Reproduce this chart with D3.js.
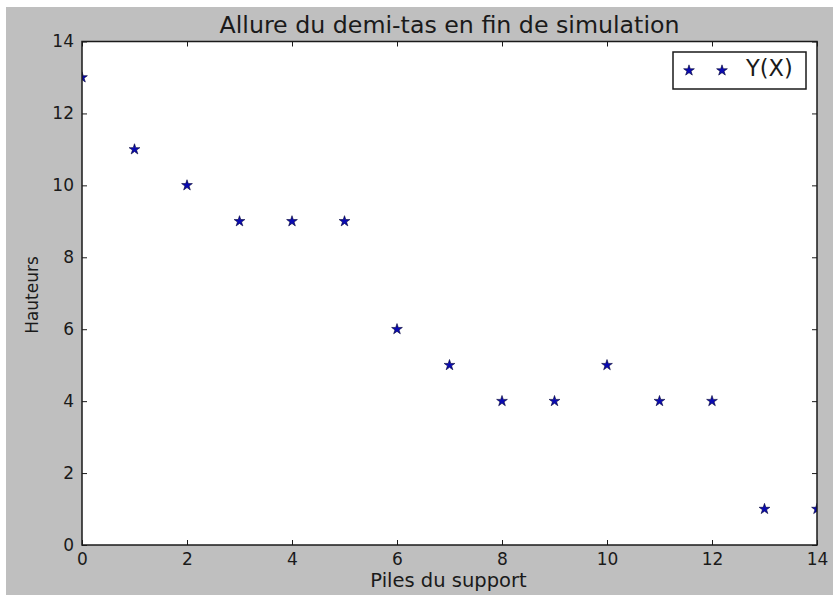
<!DOCTYPE html>
<html>
<head>
<meta charset="utf-8">
<script src="https://cdn.jsdelivr.net/npm/d3@7"></script>
<style>
  body { margin: 0; background: #fff; }
  text { font-family: "DejaVu Sans", sans-serif; fill: #1a1a1a; }
</style>
</head>
<body>
<svg id="chart" width="833" height="595"></svg>
<script>
// Values
const piles = [0, 1, 2, 3, 4, 5, 6, 7, 8, 9, 10, 11, 12, 13, 14];
const hauteurs = [13, 11, 10, 9, 9, 9, 6, 5, 4, 4, 5, 4, 4, 1, 1];
const xTicks = [0, 2, 4, 6, 8, 10, 12, 14];
const yTicks = [0, 2, 4, 6, 8, 10, 12, 14];

const svg = d3.select('#chart');

// Plot box
const boxLeft = 82, boxRight = 817, boxTop = 41.5, boxBottom = 545;

// Grey figure background
svg.append('rect')
  .attr('x', 6).attr('y', 7)
  .attr('width', 827).attr('height', 588)
  .attr('fill', '#bfbfbf');

// White axes area
svg.append('rect')
  .attr('x', boxLeft).attr('y', boxTop)
  .attr('width', boxRight - boxLeft).attr('height', boxBottom - boxTop)
  .attr('fill', '#fff');

const x = d3.scaleLinear().domain([0, 14]).range([boxLeft, boxRight]);
const y = d3.scaleLinear().domain([0, 14]).range([boxBottom, boxTop]);

// Clip so edge markers are cut like matplotlib does
svg.append('clipPath').attr('id', 'clip')
  .append('rect')
  .attr('x', boxLeft).attr('y', boxTop)
  .attr('width', boxRight - boxLeft).attr('height', boxBottom - boxTop);

// Axes with inward ticks (top/bottom and left/right)
const tick = 5;
svg.append('g')
  .attr('transform', `translate(0,${boxBottom})`)
  .call(d3.axisBottom(x).tickValues(xTicks).tickSizeInner(-tick).tickSizeOuter(0).tickPadding(8))
  .call(g => g.select('.domain').remove())
  .call(g => g.selectAll('text').style('font-size', '17px').attr('fill', '#1a1a1a'));

svg.append('g')
  .attr('transform', `translate(0,${boxTop})`)
  .call(d3.axisTop(x).tickValues(xTicks).tickSizeInner(-tick).tickSizeOuter(0).tickFormat(''))
  .call(g => g.select('.domain').remove());

svg.append('g')
  .attr('transform', `translate(${boxLeft},0)`)
  .call(d3.axisLeft(y).tickValues(yTicks).tickSizeInner(-tick).tickSizeOuter(0).tickPadding(8))
  .call(g => g.select('.domain').remove())
  .call(g => g.selectAll('text').style('font-size', '17px').attr('fill', '#1a1a1a'));

svg.append('g')
  .attr('transform', `translate(${boxRight},0)`)
  .call(d3.axisRight(y).tickValues(yTicks).tickSizeInner(-tick).tickSizeOuter(0).tickFormat(''))
  .call(g => g.select('.domain').remove());

svg.selectAll('.tick line').attr('stroke', '#1a1a1a');

// Points as stars
const star = d3.symbol().type(d3.symbolStar).size(36);
svg.append('g')
  .attr('clip-path', 'url(#clip)')
  .selectAll('path')
  .data(piles)
  .enter()
  .append('path')
  .attr('d', star)
  .attr('transform', (d, i) => `translate(${x(d)},${y(hauteurs[i])})`)
  .attr('fill', '#0a0ab4')
  .attr('stroke', '#000033')
  .attr('stroke-width', 0.6);

// Frame
svg.append('rect')
  .attr('x', boxLeft).attr('y', boxTop)
  .attr('width', boxRight - boxLeft).attr('height', boxBottom - boxTop)
  .attr('fill', 'none')
  .attr('stroke', '#1a1a1a')
  .attr('stroke-width', 1.5);

// Title and axis labels
svg.append('text')
  .attr('x', 449.5)
  .attr('y', 33)
  .attr('text-anchor', 'middle')
  .style('font-size', '23.7px')
  .text('Allure du demi-tas en fin de simulation');

svg.append('text')
  .attr('x', 448.5)
  .attr('y', 587)
  .attr('text-anchor', 'middle')
  .style('font-size', '19.5px')
  .text('Piles du support');

svg.append('text')
  .attr('transform', `translate(37.5,295) rotate(-90)`)
  .attr('text-anchor', 'middle')
  .style('font-size', '17px')
  .text('Hauteurs');

// Legend
const legend = svg.append('g');
legend.append('rect')
  .attr('x', 673).attr('y', 52)
  .attr('width', 133).attr('height', 37)
  .attr('fill', '#fff')
  .attr('stroke', '#1a1a1a')
  .attr('stroke-width', 1.5);
legend.selectAll('path')
  .data([689, 722])
  .enter()
  .append('path')
  .attr('d', star)
  .attr('transform', d => `translate(${d},70.5)`)
  .attr('fill', '#0a0ab4')
  .attr('stroke', '#000033')
  .attr('stroke-width', 0.6);
legend.append('text')
  .attr('x', 746)
  .attr('y', 76)
  .style('font-size', '22.5px')
  .text('Y(X)');
</script>
</body>
</html>
